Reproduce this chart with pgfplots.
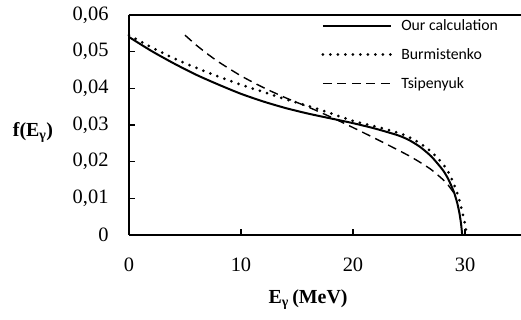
\documentclass[border=0pt]{standalone}
\usepackage{fontspec}
\setmainfont{Liberation Serif}
\newfontfamily\calibri{Carlito}
\usepackage{pgfplots}
\pgfplotsset{compat=1.18}
\usetikzlibrary{calc}
\begin{document}
\begin{tikzpicture}
\begin{axis}[
  name=ax,
  scale only axis,
  width=392bp, height=220bp,
  xmin=0, xmax=35, ymin=0, ymax=0.06,
  scaled y ticks=false, scaled x ticks=false,
  axis x line=box, axis y line*=left,
  axis line style={line width=1.5bp},
  xtick={0,10,20,30}, xticklabels={0,10,20,30},
  ytick={0,0.01,0.02,0.03,0.04,0.05,0.06},
  yticklabels={0,{0,01},{0,02},{0,03},{0,04},{0,05},{0,06}},
  xtick pos=left, ytick pos=left,
  tick align=inside,
  major tick length=6bp,
  tick style={line width=1.2bp, black},
  ticklabel style={font=\fontsize{20.5}{23}\selectfont},
  yticklabel style={xshift=-17bp},
  xticklabel style={yshift=-19bp},
  every axis x label/.style={at={(rel axis cs:0.457,0)}, anchor=center, yshift=-65bp},
  every axis y label/.style={at={(rel axis cs:0,0.464)}, anchor=center, xshift=-96bp},
  xlabel={\fontsize{20}{24}\selectfont\bfseries E\textsubscript{γ}\,(MeV)},
  ylabel={\fontsize{20}{24}\selectfont\bfseries f(E\textsubscript{γ})},
  legend style={draw=none, fill=none, at={(rel axis cs:0.49,0.99)}, anchor=north west,
    font=\calibri\fontsize{15.8}{19}\selectfont, row sep=12.5bp, inner sep=0pt,
    legend cell align=left,
    /tikz/every odd column/.append style={column sep=7bp}},
  legend image code/.code={\draw[#1] (0bp,0bp) -- (68bp,0bp);},
  clip=false,
]
\addplot[black, line width=2bp, smooth, tension=0.4] coordinates {
(0,0.0540) (2,0.0502) (4,0.0468) (6,0.0437) (8,0.0410) (10,0.0385) (12,0.0364)
(14,0.0346) (16,0.0331) (18,0.0318) (20,0.0305) (22,0.0290) (24,0.0272) (25,0.0259)
(26,0.0240) (27,0.0214) (28,0.0178) (28.5,0.0153) (29,0.0118) (29.3,0.0088)
(29.5,0.0060) (29.65,0.0030) (29.75,0.0)
};
\addlegendentry{Our calculation}
\addplot[black, line width=3bp, line cap=round, dash pattern=on 0bp off 7.5bp, smooth, tension=0.4] coordinates {
(0,0.0545) (2,0.0512) (4,0.0482) (6,0.0456) (8,0.0432) (10,0.0410) (12,0.0390)
(14,0.0370) (16,0.0352) (18,0.0332) (20,0.0311) (22,0.0296) (24,0.0279) (25,0.0267)
(26,0.0250) (27,0.0227) (28,0.0195) (28.5,0.0172) (29,0.0140) (29.4,0.0105)
(29.7,0.0070) (30.0,0.0030) (30.15,0.0)
};
\addlegendentry{Burmistenko}
\addplot[black, line width=1.4bp, dash pattern=on 9bp off 5.5bp, smooth, tension=0.4] coordinates {
(5,0.0545) (6,0.0518) (7,0.0494) (8,0.0472) (10,0.0434) (12,0.0402) (14,0.0374)
(16,0.0349) (18,0.0322) (20,0.0293) (22,0.0263) (24,0.0232) (25,0.0216) (26,0.0198)
(27,0.0178) (28,0.0152) (28.5,0.0136) (29,0.0115)
};
\addlegendentry{Tsipenyuk}
\end{axis}
\pgfresetboundingbox
\path[use as bounding box] ($(ax.south west)+(-129bp,-85bp)$) rectangle ($(ax.north east)+(0bp,15bp)$);
\end{tikzpicture}
\end{document}
